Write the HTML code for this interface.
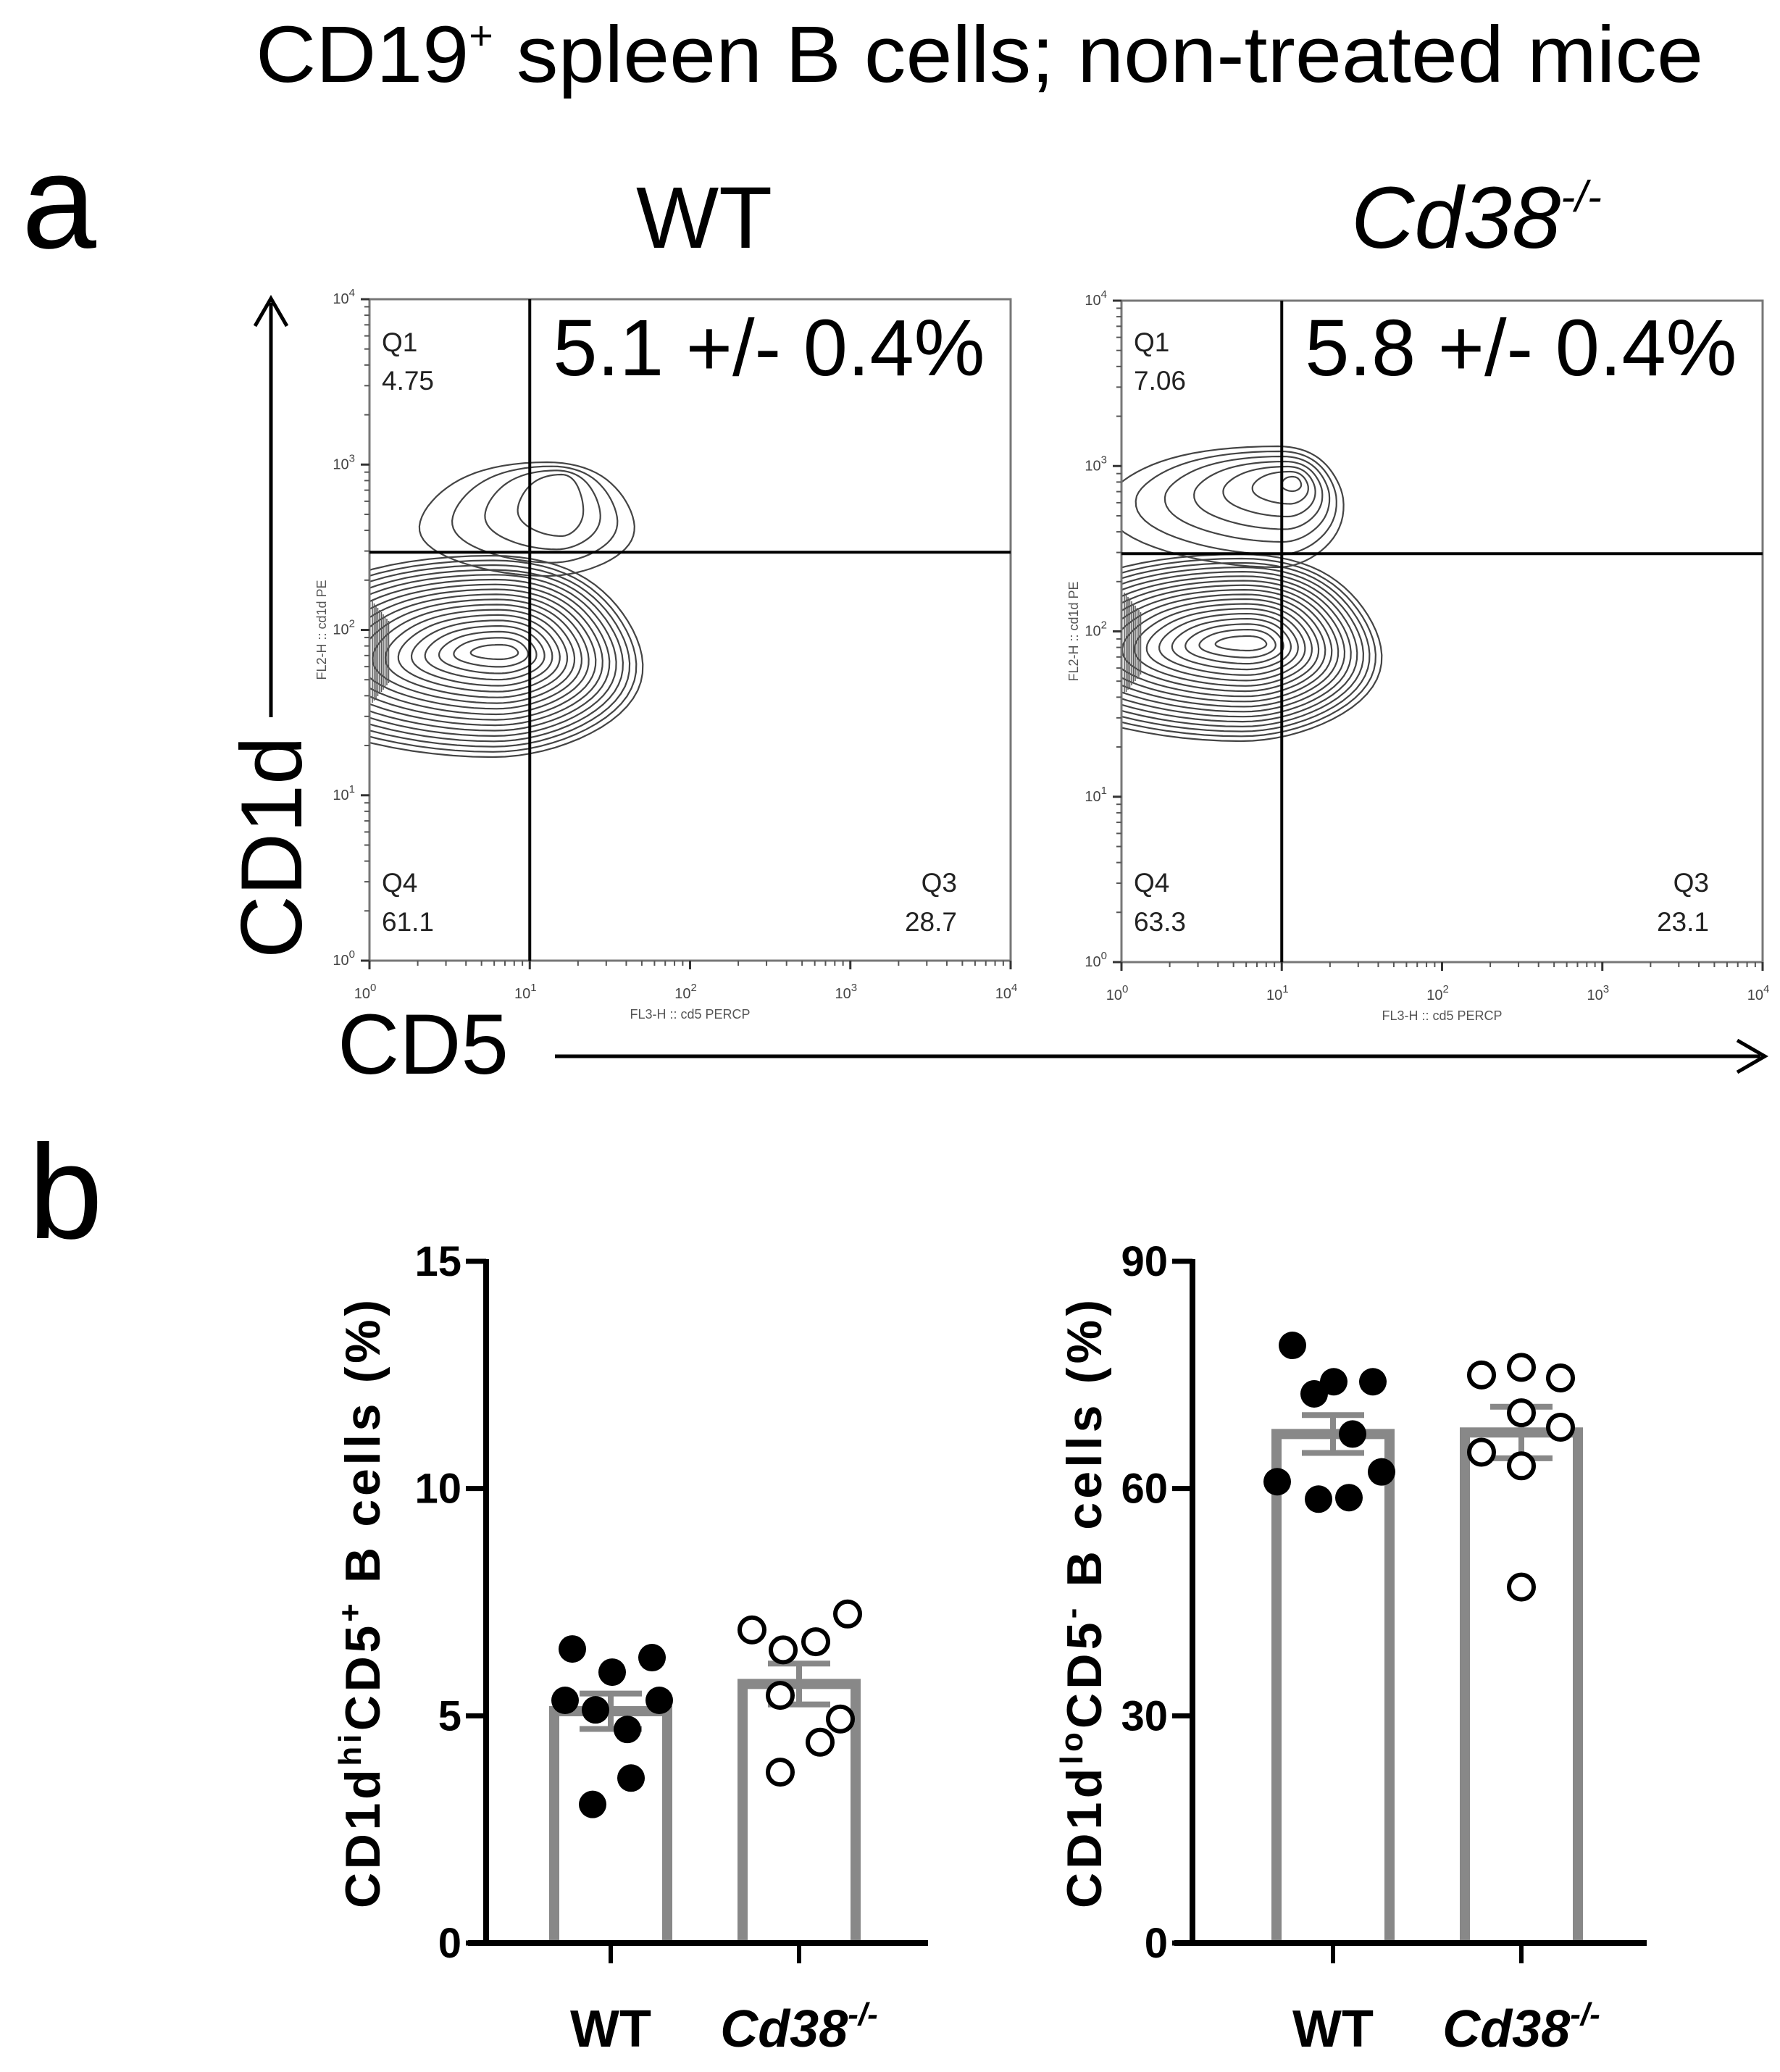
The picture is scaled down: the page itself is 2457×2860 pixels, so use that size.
<!DOCTYPE html>
<html><head><meta charset="utf-8"><style>
html,body{margin:0;padding:0;background:#fff}
svg{display:block}
text{font-family:"Liberation Sans",Arial,sans-serif}
</style></head><body>
<svg id="fig" width="2457" height="2860" viewBox="0 0 2457 2860" xmlns="http://www.w3.org/2000/svg">
<text x="1352" y="113" font-size="110" text-anchor="middle" textLength="1998" lengthAdjust="spacingAndGlyphs">CD19<tspan dy="-45" font-size="55">+</tspan><tspan dy="45"> spleen B cells; non-treated mice</tspan></text>
<text x="30" y="342" font-size="185">a</text>
<text x="972" y="342" font-size="121" text-anchor="middle">WT</text>
<text x="1865" y="342" font-size="121" font-style="italic">Cd38<tspan dy="-50" font-size="60">-/-</tspan></text>
<g id="flow"></g>
<line x1="374" y1="990" x2="374" y2="418" stroke="#000" stroke-width="5"/>
<polyline points="352,450 374,412 396,450" fill="none" stroke="#000" stroke-width="5"/>
<text transform="translate(416,1323) rotate(-90)" font-size="120">CD1d</text>
<text x="466" y="1482" font-size="118">CD5</text>
<line x1="766" y1="1458" x2="2430" y2="1458" stroke="#000" stroke-width="5"/>
<polyline points="2398,1436 2436,1458 2398,1480" fill="none" stroke="#000" stroke-width="5"/>
<text x="39" y="1709" font-size="185">b</text>
<g id="bars"></g>
</svg>
<script>
const groups = ["WT", "Cd38-/-"];
const leftMeans = [5.1, 5.7];
const leftSem = [0.39, 0.45];
const leftWT = [6.47, 5.96, 6.28, 5.34, 5.13, 5.34, 4.70, 3.63, 3.05];
const leftWTJitter = [-53, 2, 57, -63, -21, 67, 23, 28, -25];
const leftKO = [6.89, 6.45, 6.63, 7.24, 5.45, 4.93, 4.42, 3.76];
const leftKOJitter = [-65, -22, 23, 67, -26, 57, 29, -26];
const leftTicks = [0, 5, 10, 15];
const rightMeans = [67.2, 67.4];
const rightSem = [2.5, 3.4];
const rightWT = [78.9, 74.1, 72.5, 74.1, 67.2, 62.2, 60.9, 58.6, 58.8];
const rightWTJitter = [-56, 1, -26, 55, 27, 67, -77, -20, 22];
const rightKO = [75.0, 76.0, 74.6, 70.0, 68.1, 64.8, 63.0, 47.0];
const rightKOJitter = [-55, 0, 54, 0, 54, -55, 0, 0];
const rightTicks = [0, 30, 60, 90];
const flowLabels = [["Q1","4.75","Q4","61.1","Q3","28.7","5.1 +/- 0.4%"],["Q1","7.06","Q4","63.3","Q3","23.1","5.8 +/- 0.4%"]];
const decades = [0, 1, 2, 3, 4];
const gateX = [1, 1];
const gateY = [2.47, 2.47];

const NS = "http://www.w3.org/2000/svg";
function mk(tag, attrs, parent){const e=document.createElementNS(NS,tag);for(const k in attrs)e.setAttribute(k,attrs[k]);parent.appendChild(e);return e;}

const flow = document.getElementById("flow");
const plots = [{L:510,T:413,W:885,H:913},{L:1548,T:415,W:885,H:913}];
plots.forEach((p,pi)=>{
  const g = mk("g",{},flow);
  
  
  const xs = v => p.L + v/4*p.W;
  const ys = v => p.T + p.H - v/4*p.H;
  const cid = "clip"+pi;
  const cp = mk("clipPath",{id:cid},g); mk("rect",{x:p.L,y:p.T,width:p.W,height:p.H},cp);
  const cg = mk("g",{"clip-path":"url(#"+cid+")"},g);
  
  
  function blob(cx,cy,rl,rr,rt,rb){
    let d="";for(let i=0;i<=72;i++){const a=i/72*2*Math.PI;const c=Math.cos(a),s=Math.sin(a);
      const x=cx+c*(c>0?rr:rl)*(1+0.04*Math.sin(3*a));const y=cy+s*(s>0?rb:rt);d+=(i?"L":"M")+x.toFixed(1)+","+y.toFixed(1);}
    return d+"Z";
  }
  let main, lobe;
  if(pi===0){ main={cx:690,cy:900,rl:[40,330],rr:[25,206],rt:[10,138],rb:[10,140]}; lobe={cx:775,cy:700,n:4,rl:[60,175],rr:[30,120],rt:[45,82],rb:[40,75]}; }
  else { main={cx:1723,cy:888,rl:[45,320],rr:[25,193],rt:[10,128],rb:[10,130]}; lobe={cx:1784,cy:668,n:7,rl:[15,235],rr:[12,90],rt:[10,72],rb:[10,95]}; }
  const N=18;
  for(let k=0;k<N;k++){const t=k/(N-1);const L=(a)=>a[0]+(a[1]-a[0])*Math.pow(t,0.9);
    const pth=mk("path",{d:blob(main.cx+t*(-10),main.cy+t*5,L(main.rl),L(main.rr),L(main.rt),L(main.rb)),fill:"none",stroke:"#444","stroke-width":2.2},cg);
    
    }
  for(let k=0;k<lobe.n;k++){const t=k/(lobe.n-1);const L=(a)=>a[0]+(a[1]-a[0])*t;
    const pth=mk("path",{d:blob(lobe.cx-t*20,lobe.cy+t*20,L(lobe.rl),L(lobe.rr),L(lobe.rt),L(lobe.rb)),fill:"none",stroke:"#444","stroke-width":2.2},cg);
    
    }
  for(let k=0;k<10;k++){const ln=mk("line",{x1:p.L+4+k*2.5,x2:p.L+4+k*2.5,y1:main.cy-70+k*3,y2:main.cy+70-k*3,stroke:"#555","stroke-width":1.5},cg);
    }
  const fr=mk("rect",{x:p.L,y:p.T,width:p.W,height:p.H,fill:"none",stroke:"#777","stroke-width":3},g);
  
  const gv=mk("line",{x1:xs(gateX[pi]),x2:xs(gateX[pi]),y1:p.T,y2:p.T+p.H,stroke:"#000","stroke-width":4},g);
  
  const gh=mk("line",{x1:p.L,x2:p.L+p.W,y1:ys(gateY[pi]),y2:ys(gateY[pi]),stroke:"#000","stroke-width":4},g);
  
  decades.forEach(dv=>{
    const t1=mk("line",{x1:xs(dv),x2:xs(dv),y1:p.T+p.H,y2:p.T+p.H+12,stroke:"#333","stroke-width":3},g);
    
    const t2=mk("line",{x1:p.L-12,x2:p.L,y1:ys(dv),y2:ys(dv),stroke:"#333","stroke-width":3},g);
    
    const xl=mk("text",{x:xs(dv)-6,y:p.T+p.H+52,"font-size":20,fill:"#444","text-anchor":"middle"},g);
    xl.innerHTML='10<tspan dy="-10" font-size="15">'+dv+'</tspan>';
    
    const yl=mk("text",{x:p.L-20,y:ys(dv)+6,"font-size":20,fill:"#444","text-anchor":"end"},g);
    yl.innerHTML='10<tspan dy="-10" font-size="15">'+dv+'</tspan>';
    
    if(dv<4){for(let m=2;m<10;m++){const lv=dv+Math.log10(m);
      const a=mk("line",{x1:xs(lv),x2:xs(lv),y1:p.T+p.H,y2:p.T+p.H+7,stroke:"#555","stroke-width":2},g);
      
      const b=mk("line",{x1:p.L-7,x2:p.L,y1:ys(lv),y2:ys(lv),stroke:"#555","stroke-width":2},g);
      }}
  });
  const xt=mk("text",{x:p.L+p.W/2,y:p.T+p.H+80,"font-size":18,fill:"#555","text-anchor":"middle"},g);
  xt.textContent="FL3-H :: cd5 PERCP";
  const yt=mk("text",{transform:"translate("+(p.L-60)+","+(p.T+p.H*0.5)+") rotate(-90)","font-size":18,fill:"#555","text-anchor":"middle"},g);
  yt.textContent="FL2-H :: cd1d PE";
  const lb=flowLabels[pi];
  const q=[[p.L+17,485,lb[0],"start","q1-label"],[p.L+17,538,lb[1],"start","q1-value"],[p.L+17,1231,lb[2],"start","q4-label"],[p.L+17,1285,lb[3],"start","q4-value"],[p.L+p.W-74,1231,lb[4],"end","q3-label"],[p.L+p.W-74,1285,lb[5],"end","q3-value"]];
  q.forEach(a=>{const t=mk("text",{x:a[0],y:a[1],"font-size":37,fill:"#222","text-anchor":a[3]},g);t.textContent=a[2];
    });
  const big=mk("text",{x:xs(gateX[pi])+32,y:518,"font-size":110,"text-anchor":"start"},g);
  big.textContent=lb[6];
});

const bars = document.getElementById("bars");
function chart(cfg){
  const g=mk("g",{},bars);
  
  
  const y0=2682, yTop=1741;
  const ys=v=>y0-v/cfg.max*(y0-yTop);
  const centers=cfg.centers;
  cfg.means.forEach((m,i)=>{
    const c=centers[i],hw=78;
    const b=mk("path",{d:`M${c-hw},${y0} L${c-hw},${ys(m)} L${c+hw},${ys(m)} L${c+hw},${y0}`,fill:"none",stroke:"#888","stroke-width":14},g);
    
    const e1=mk("line",{x1:c,x2:c,y1:ys(m+cfg.sem[i]),y2:ys(m-cfg.sem[i]),stroke:"#888","stroke-width":8},g);
    
    [m+cfg.sem[i],m-cfg.sem[i]].forEach(v=>{const cap=mk("line",{x1:c-43,x2:c+43,y1:ys(v),y2:ys(v),stroke:"#888","stroke-width":8},g);
      });
  });
  cfg.wt.forEach((v,j)=>{const d=mk("circle",{cx:centers[0]+cfg.wtJ[j],cy:ys(v),r:19,fill:"#000"},g);
    });
  cfg.ko.forEach((v,j)=>{const d=mk("circle",{cx:centers[1]+cfg.koJ[j],cy:ys(v),r:17,fill:"#fff",stroke:"#000","stroke-width":6},g);
    });
  const ya=mk("line",{x1:cfg.ax,x2:cfg.ax,y1:yTop-3,y2:y0+4,stroke:"#000","stroke-width":8},g);
  
  const xa=mk("line",{x1:cfg.ax-25,x2:cfg.xEnd,y1:y0,y2:y0,stroke:"#000","stroke-width":8},g);
  
  cfg.ticks.forEach(t=>{
    const tk=mk("line",{x1:cfg.ax-28,x2:cfg.ax,y1:ys(t),y2:ys(t),stroke:"#000","stroke-width":7},g);
    
    const tl=mk("text",{x:cfg.ax-34,y:ys(t)+20,"font-size":58,"font-weight":"bold","text-anchor":"end"},g);
    tl.textContent=t;
  });
  centers.forEach((c,i)=>{
    const tk=mk("line",{x1:c,x2:c,y1:y0,y2:y0+28,stroke:"#000","stroke-width":6},g);
    
    const tl=mk("text",{x:c,y:2825,"font-size":72,"font-weight":"bold","text-anchor":"middle","font-style":i?"italic":"normal"},g);
    tl.innerHTML=i?'Cd38<tspan dy="-30" font-size="44">-/-</tspan>':groups[0];
    
  });
  const tt=mk("text",{transform:`translate(${cfg.titleX},2214) rotate(-90)`,"font-size":68,"font-weight":"bold","text-anchor":"middle",textLength:840,lengthAdjust:"spacing"},g);
  tt.innerHTML=cfg.title;
  
}
chart({name:"cd1dhi-cd5pos-chart",max:15,ticks:leftTicks,means:leftMeans,sem:leftSem,wt:leftWT,wtJ:leftWTJitter,ko:leftKO,koJ:leftKOJitter,
  centers:[843,1103],ax:671,xEnd:1281,titleX:524,
  title:'CD1d<tspan dy="-26" font-size="44">hi</tspan><tspan dy="26">CD5</tspan><tspan dy="-26" font-size="44">+</tspan><tspan dy="26"> B cells (%)</tspan>'});
chart({name:"cd1dlo-cd5neg-chart",max:90,ticks:rightTicks,means:rightMeans,sem:rightSem,wt:rightWT,wtJ:rightWTJitter,ko:rightKO,koJ:rightKOJitter,
  centers:[1840,2100],ax:1646,xEnd:2273,titleX:1520,
  title:'CD1d<tspan dy="-26" font-size="44">lo</tspan><tspan dy="26">CD5</tspan><tspan dy="-26" font-size="44">-</tspan><tspan dy="26"> B cells (%)</tspan>'});
</script>
</body></html>
